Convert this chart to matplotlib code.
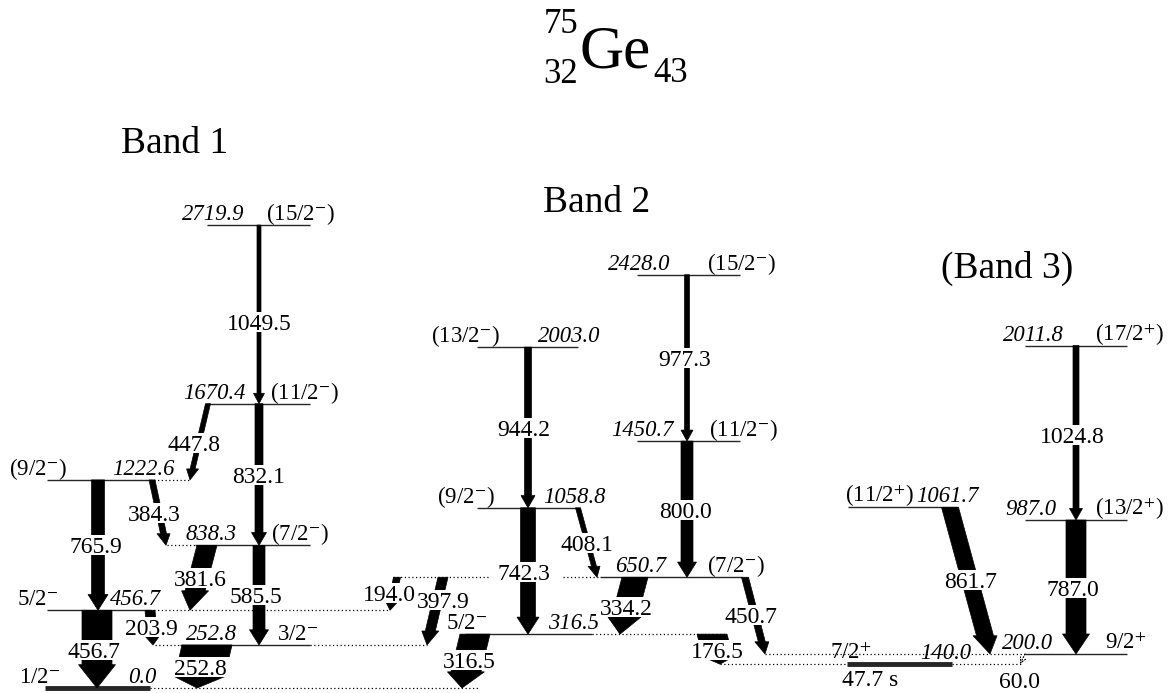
import matplotlib
matplotlib.use("Agg")
import matplotlib.pyplot as plt
from matplotlib.patches import Polygon, Rectangle

plt.rcParams['font.family'] = ['Liberation Serif', 'DejaVu Serif']
plt.rcParams['mathtext.fontset'] = 'stix'

# ---- data: levels (keV) and spins
level_E = [0.0, 252.8, 456.7, 838.3, 1222.6, 1670.4, 2719.9,
           316.5, 650.7, 1058.8, 2003.0, 1450.7, 2428.0,
           140.0, 200.0, 987.0, 2011.8, 1061.7]
level_spin = ['1/2-', '3/2-', '5/2-', '(7/2-)', '(9/2-)', '(11/2-)', '(15/2-)',
              '5/2-', '(7/2-)', '(9/2-)', '(13/2-)', '(11/2-)', '(15/2-)',
              '7/2+', '9/2+', '(13/2+)', '(17/2+)', '(11/2+)']

# ---- data: gamma transitions (keV), initial level
gamma_E = [1049.5, 832.1, 447.8, 765.9, 384.3, 585.5, 381.6, 456.7, 203.9, 252.8,
           194.0, 397.9, 742.3, 316.5, 944.2, 408.1, 977.3, 800.0, 334.2, 450.7,
           176.5, 1024.8, 787.0, 861.7, 60.0]
gamma_from = [2719.9, 1670.4, 1670.4, 1222.6, 1222.6, 838.3, 838.3, 456.7, 456.7, 252.8,
              650.7, 650.7, 1058.8, 316.5, 2003.0, 1058.8, 2428.0, 1450.7, 650.7, 650.7,
              316.5, 2011.8, 987.0, 1061.7, 200.0]
# relative intensity shown as arrow width (px)
gamma_w = [4, 8, 5, 13, 6, 12, 20, 30, 10, 50,
           7, 10, 15, 30, 7, 5, 5, 12, 26, 7,
           30, 6, 20, 17, 0]

band_names = ['Band 1', 'Band 2', '(Band 3)']
isomer_label = '47.7 s'

# ---- layout (pixels)
K = 0.1702   # px per keV
Y0 = 688     # pixel row of ground state
FS = 17      # transition label size
EM = FS * 100 / 72

# solid level line (x0, x1), line width, dotted pieces, energy-label x, spin-label x
lev_x = [(45, 150), (180, 310), (47, 150), (195, 310), (47, 150), (207, 310), (207, 310),
         (465, 592), (600, 742), (477, 578), (477, 578), (637, 740), (637, 740),
         (847, 952), (1025, 1127), (1025, 1127), (1025, 1127), (848, 958)]
lev_lw = [3.5, 1, 1, 1, 1, 1, 1, 1, 1, 1, 1, 1, 1, 3.5, 1, 1, 1, 1]
lev_dots = [[(150, 480)], [(155, 180), (310, 427)], [(150, 390)], [(167, 195)], [(150, 190)], [], [],
            [(592, 727)], [(393, 490), (563, 600)], [], [], [], [],
            [(720, 847), (952, 1022)], [(765, 1025)], [], [], []]
lev_ex = [142, 212, 136, 211, 143, 214, 213, 574, 641, 574, 569, 642, 639, 946, 1028, 1031, 1033, 947]
lev_sx = [40, 298, 38, 300, 38, 305, 301, 467, 736, 466, 466, 744, 742, 851, 1126, 1130, 1130, 880]

# arrow top x, tip x, label (x, y px)
g_x0 = [259, 259, 208, 98, 152, 259, 207, 97, 150, 207,
        397, 443, 528, 475, 528, 578, 687, 687, 635, 745,
        712, 1076, 1076, 950, 1025]
g_x1 = [259, 259, 190, 98, 166, 259, 190, 97, 153, 197,
        390, 427, 528, 462, 528, 597, 687, 687, 620, 765,
        720, 1076, 1076, 990, 1020]
g_lab = [(259, 322), (259, 475), (194, 443), (96, 545), (154, 513), (256, 595), (200, 578),
         (94, 650), (151, 627), (200, 667), (389, 593), (443, 600), (524, 572), (469, 660),
         (524, 428), (587, 543), (685, 358), (685, 510), (626, 607), (751, 615), (717, 650),
         (1072, 435), (1073, 588), (971, 580), (1019, 680)]

band_pos = [(175, 144), (597, 203), (1007, 268)]


def yE(ypix):
    return (Y0 - ypix) / K


def spin_tex(s):
    return s.replace('-', '$^{-}$').replace('+', '$^{+}$')


fig = plt.figure(figsize=(11.69, 6.93), dpi=100)
ax = fig.add_axes([0, 0, 1, 1])
ax.set_xlim(0, 1169)
ax.set_ylim(yE(693), yE(0))
ax.axis('off')

# levels
for i, E in enumerate(level_E):
    x0, x1 = lev_x[i]
    ax.plot([x0, x1], [E, E], color='0.15', lw=lev_lw[i], solid_capstyle='butt', zorder=2)
    for d0, d1 in lev_dots[i]:
        ax.plot([d0, d1], [E, E], color='black', lw=0.9, ls=(0, (1, 2)), zorder=1)
    yb = E + 5 / K
    ax.text(lev_ex[i], yb, f'{E:.1f}', style='italic', fontsize=16.3, ha='center', va='baseline')
    ax.text(lev_sx[i], yb, spin_tex(level_spin[i]), fontsize=16.5, ha='center', va='baseline')

# transitions
for i, Eg in enumerate(gamma_E):
    Ei = gamma_from[i]
    Ef = round(Ei - Eg, 1)
    x0, x1, w = g_x0[i], g_x1[i], gamma_w[i]
    if w == 0:
        ax.annotate('', xy=(x1, Ef), xytext=(x0, Ei),
                    arrowprops=dict(arrowstyle='->', lw=0.8, ls=':', color='black',
                                    shrinkA=0, shrinkB=0), zorder=3)
    else:
        u0, u1 = K * Ei, K * Ef
        length = u0 - u1
        hl = min(0.3 * length, 8 + 0.6 * w)
        hw = w + 7
        uh = u1 + hl
        xh = x1 + (x0 - x1) * (uh - u1) / length
        pts = [(x0 - w / 2, u0), (x0 + w / 2, u0), (xh + w / 2, uh), (xh + hw / 2, uh),
               (x1, u1), (xh - hw / 2, uh), (xh - w / 2, uh)]
        pts = [(px, pu / K) for px, pu in pts]
        ax.add_patch(Polygon(pts, closed=True, fc='black', ec='black', lw=0.5, zorder=3))
    # label with a white patch just around the digits
    lab = f'{Eg:.1f}'
    lx, ly = g_lab[i]
    tw = (len(lab) - 1) * 0.5 * EM + 0.25 * EM
    ch = 0.66 * EM
    ax.add_patch(Rectangle((lx - tw / 2 - 3, yE(ly + ch / 2 + 2)), tw + 6, (ch + 4) / K,
                           fc='white', ec='none', zorder=4))
    ax.text(lx, yE(ly + ch / 2), lab, fontsize=FS, ha='center', va='baseline', zorder=5)

ax.text(870, yE(686), isomer_label, fontsize=FS, ha='center', va='baseline')

for name, (bx, by) in zip(band_names, band_pos):
    ax.text(bx, yE(by), name, fontsize=27, ha='center', va='center')

# nucleus title
ax.text(580, yE(68), 'Ge', fontsize=44, ha='left', va='baseline')
ax.text(578, yE(33), '75', fontsize=25, ha='right', va='baseline')
ax.text(578, yE(83), '32', fontsize=25, ha='right', va='baseline')
ax.text(653, yE(82), '43', fontsize=25, ha='left', va='baseline')

fig.savefig('out.png', dpi=100)
